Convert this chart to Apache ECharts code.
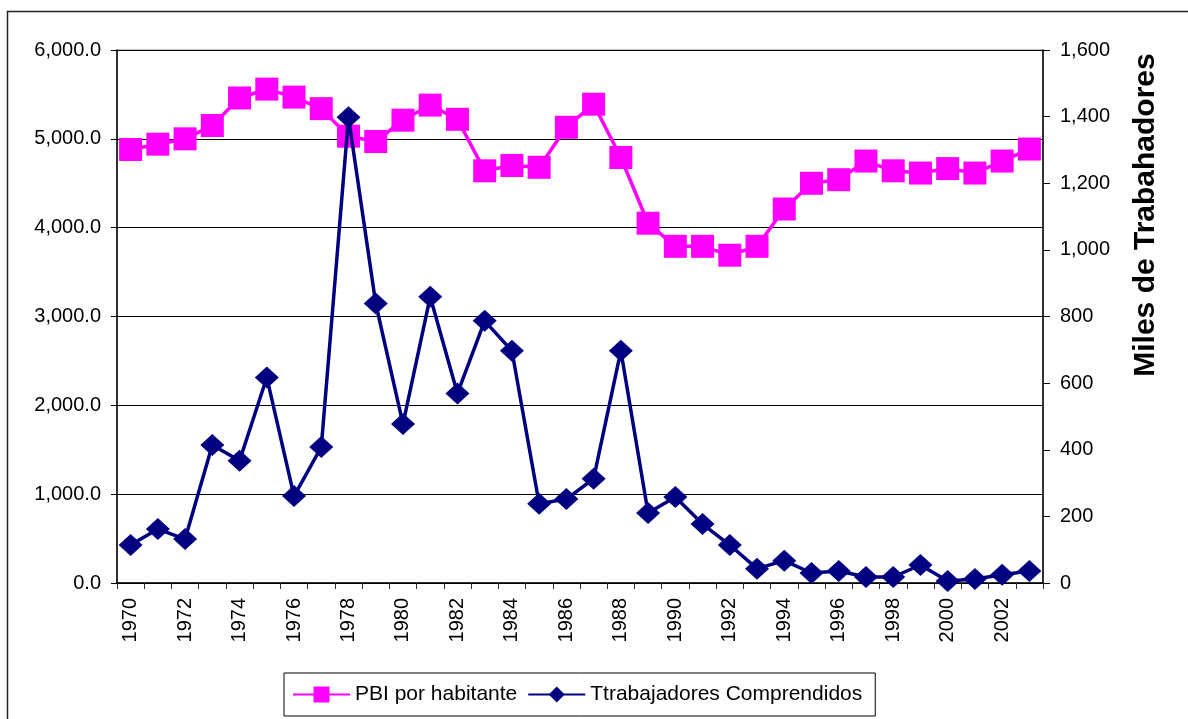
<!DOCTYPE html>
<html>
<head>
<meta charset="utf-8">
<script src="https://cdn.jsdelivr.net/npm/echarts@6/dist/echarts.min.js"></script>
<style>
  html, body { margin: 0; padding: 0; background: #fff; }
  #chart { width: 1188px; height: 719px; }
</style>
</head>
<body>
<div id="chart"></div>
<script>
// years 1970 - 2003
const years = ['1970', '1971', '1972', '1973', '1974', '1975', '1976', '1977', '1978', '1979',
  '1980', '1981', '1982', '1983', '1984', '1985', '1986', '1987', '1988', '1989',
  '1990', '1991', '1992', '1993', '1994', '1995', '1996', '1997', '1998', '1999',
  '2000', '2001', '2002', '2003']

// PBI por habitante (left axis)
const pbi = [4880, 4940, 5000, 5150, 5460, 5560, 5470, 5340, 5030, 4970,
  5210, 5380, 5220, 4640, 4700, 4680, 5130, 5390, 4790, 4050,
  3790, 3790, 3690, 3790, 4210, 4500, 4540, 4750, 4640, 4615,
  4665, 4615, 4750, 4885]

// Ttrabajadores Comprendidos, miles (right axis)
const trabajadores = [114, 162, 132, 414, 367, 617, 261, 408, 1398, 839,
  477, 859, 569, 787, 697, 238, 252, 313, 697, 210,
  258, 177, 114, 43, 67, 30, 36, 18, 18, 54,
  6, 12, 25, 36]

const font = 'Liberation Sans, Arial, sans-serif'

const chart = echarts.init(document.getElementById('chart'))

chart.setOption({
  animation: false,
  backgroundColor: '#fff',
  textStyle: { fontFamily: font },
  graphic: [
    {
      type: 'rect',
      left: 5,
      top: 9,
      shape: { width: 1250, height: 760 },
      style: { fill: 'none', stroke: '#222', lineWidth: 1.5 },
      z: -1
    },
    {
      type: 'text',
      x: 1146,
      y: 215,
      rotation: Math.PI / 2,
      style: {
        text: 'Miles de Trabahadores',
        font: 'bold 30px ' + font,
        fill: '#000',
        textAlign: 'center',
        textVerticalAlign: 'middle'
      }
    }
  ],
  grid: {
    left: 117,
    right: 145,
    top: 50,
    bottom: 136,
    containLabel: false,
    show: true,
    borderColor: '#888',
    borderWidth: 1
  },
  legend: {
    left: 284,
    top: 673,
    padding: [11, 13, 11, 8],
    itemGap: 10,
    itemWidth: 57,
    itemHeight: 20,
    borderColor: '#000',
    borderWidth: 1,
    textStyle: { fontSize: 21, color: '#000', fontFamily: font },
    data: ['PBI por habitante', 'Ttrabajadores Comprendidos']
  },
  xAxis: {
    type: 'category',
    data: years,
    boundaryGap: true,
    axisLine: { lineStyle: { color: '#000', width: 1.5 } },
    axisTick: { show: true, length: 6, interval: 0, lineStyle: { color: '#333' } },
    axisLabel: {
      rotate: 90,
      interval: 1,
      fontSize: 20,
      color: '#000',
      margin: 15
    },
    splitLine: { show: false }
  },
  yAxis: [
    {
      type: 'value',
      min: 0,
      max: 6000,
      interval: 1000,
      position: 'left',
      axisLine: { show: true, lineStyle: { color: '#000', width: 1.5 } },
      axisTick: { show: true, length: 6, lineStyle: { color: '#000' } },
      axisLabel: {
        fontSize: 20,
        color: '#000',
        margin: 16,
        formatter: v => v.toLocaleString('en-US', { minimumFractionDigits: 1, maximumFractionDigits: 1 })
      },
      splitLine: { show: true, lineStyle: { color: '#000', width: 1 } }
    },
    {
      type: 'value',
      min: 0,
      max: 1600,
      interval: 200,
      position: 'right',
      axisLine: { show: true, lineStyle: { color: '#000', width: 1.5 } },
      axisTick: { show: true, length: 7, lineStyle: { color: '#000' } },
      axisLabel: {
        fontSize: 20,
        color: '#000',
        margin: 17,
        formatter: v => v.toLocaleString('en-US')
      },
      splitLine: { show: false }
    }
  ],
  series: [
    {
      name: 'PBI por habitante',
      type: 'line',
      yAxisIndex: 0,
      data: pbi,
      symbol: 'rect',
      symbolSize: 23,
      showAllSymbol: true,
      color: '#FF00FF',
      lineStyle: { color: '#FF00FF', width: 3.5 },
      itemStyle: { color: '#FF00FF' },
      z: 2
    },
    {
      name: 'Ttrabajadores Comprendidos',
      type: 'line',
      yAxisIndex: 1,
      data: trabajadores,
      symbol: 'diamond',
      symbolSize: [24, 22],
      showAllSymbol: true,
      color: '#000080',
      lineStyle: { color: '#000080', width: 3.5 },
      itemStyle: { color: '#000080' },
      z: 3
    }
  ]
})
</script>
</body>
</html>
